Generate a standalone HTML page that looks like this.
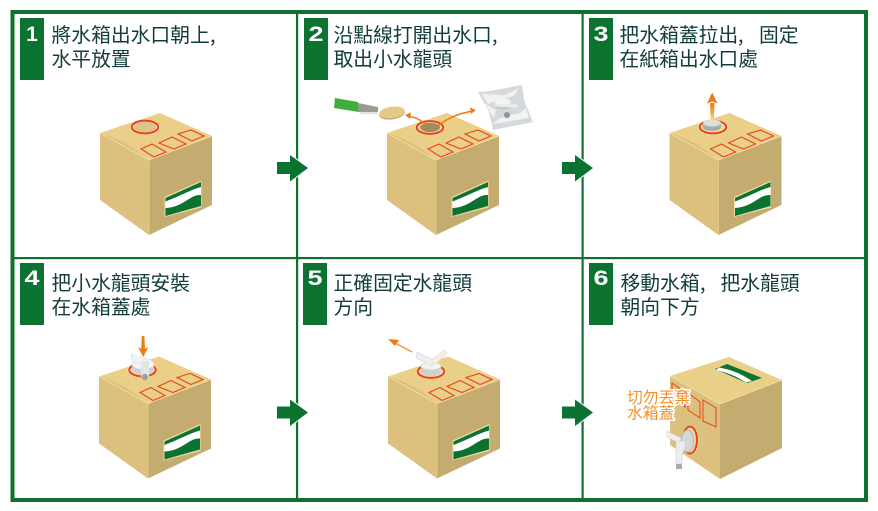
<!DOCTYPE html>
<html lang="zh-Hant">
<head>
<meta charset="utf-8">
<style>
html,body{margin:0;padding:0;background:#fff;width:878px;height:511px;overflow:hidden}
svg{display:block}
.t{font-family:"Liberation Sans","Noto Sans CJK TC",sans-serif;font-size:19.8px;fill:#123c3c}
.c{font-family:"Noto Sans CJK JP","Liberation Sans",sans-serif;font-size:19.8px;fill:#123c3c}
.n{font-family:"Liberation Sans",sans-serif;font-size:21px;font-weight:bold;fill:#fff;text-anchor:middle}
.o{font-family:"Liberation Sans","Noto Sans CJK TC",sans-serif;font-size:15.800px;fill:#f2922e;stroke:#fff;stroke-width:3px;paint-order:stroke;stroke-linejoin:round}
</style>
</head>
<body>
<svg width="878" height="511" viewBox="0 0 878 511" xmlns="http://www.w3.org/2000/svg">
<defs>
<g id="box">
  <polygon points="100,133 160,113 212,136 149,160" fill="#e9cf88"/>
  <path d="M100 133 C120 139 135 148 149 160 C135 151 118 143 100 137Z" fill="#dcc07e"/>
  <polygon points="100,133 149,160 149,235 100,200" fill="#dcc07e"/>
  <polygon points="149,160 212,136 212,205 149,235" fill="#c4ab70"/>
  <polyline points="100,133 149,160 212,136" fill="none" stroke="#f2dfa8" stroke-width=".8"/>
  <line x1="149" y1="160" x2="149" y2="235" stroke="#e9cf88" stroke-width=".8"/>
  <polygon points="164.500,197 201.500,180.500 201.500,207.500 164.500,217" fill="#f0dba0"/>
  <polygon points="165.500,198 201,182 201,206 165.500,216" fill="#fff"/>
  <path d="M165.500 198 L201 182 L201 187 C190 190 180 196 165.500 201.500Z" fill="#0b7230"/>
  <path d="M165.500 216 L201 206 L201 195 C190 194 184 207 165.500 208Z" fill="#0b7230"/>
  <g fill="none" stroke="#e8431a" stroke-width="1.100">
    <polygon points="141,149 152,144 166,152 154,157"/>
    <polygon points="159,143 172,137 186,144 174,149"/>
    <polygon points="178,134 191,130 204,136 192,141"/>
  </g>
</g>
<linearGradient id="ao" x1="0" y1="1" x2="0" y2="0"><stop offset="0" stop-color="#fbd9a8"/><stop offset=".5" stop-color="#f7a040"/><stop offset="1" stop-color="#ee7a10"/></linearGradient>
<polygon id="arr" points="277,162 290,162 290,155 308,168 290,181.500 290,174 277,174" fill="#0b7230" stroke="#fff" stroke-width="2" paint-order="stroke"/>
<g id="ring">
  <ellipse cx="0" cy="0" rx="15" ry="7.800" fill="#f5e7ba"/>
  <ellipse cx="0" cy="0" rx="13.300" ry="6.400" fill="#f0dda2" stroke="#e8431a" stroke-width="2"/>
</g>
</defs>

<!-- frame -->
<rect x="12.500" y="12" width="853.500" height="488" fill="#fff" stroke="#0f7032" stroke-width="4"/>
<rect x="296" y="12" width="2.200" height="488" fill="#0f7032"/>
<rect x="581.500" y="12" width="2.200" height="488" fill="#0f7032"/>
<rect x="12" y="257" width="854" height="2.200" fill="#0f7032"/>

<!-- number tabs -->
<g fill="#0b7230">
<rect x="20" y="18" width="24" height="62"/>
<rect x="304" y="18" width="24" height="62"/>
<rect x="589" y="18" width="24" height="62"/>
<rect x="20" y="263" width="24" height="62"/>
<rect x="303" y="263" width="24" height="62"/>
<rect x="589" y="263" width="24" height="62"/>
</g>
<text class="n" x="32" y="41">1</text>
<text class="n" x="316" y="41" textLength="15" lengthAdjust="spacingAndGlyphs">2</text>
<text class="n" x="601" y="41" textLength="15" lengthAdjust="spacingAndGlyphs">3</text>
<text class="n" x="32" y="285" textLength="15" lengthAdjust="spacingAndGlyphs">4</text>
<text class="n" x="315" y="285" textLength="15" lengthAdjust="spacingAndGlyphs">5</text>
<text class="n" x="601" y="285" textLength="15" lengthAdjust="spacingAndGlyphs">6</text>

<!-- titles -->
<text class="t" x="51.500" y="42">將水箱出水口朝上</text><text class="c" x="210" y="42">,</text>
<text class="t" x="51.500" y="66">水平放置</text>
<text class="t" x="333.500" y="42">沿點線打開出水口</text><text class="c" x="492" y="42">,</text>
<text class="t" x="333.500" y="66">取出小水龍頭</text>
<text class="t" x="619.500" y="42">把水箱蓋拉出</text><text class="c" x="738" y="42">,</text><text class="t" x="759" y="42">固定</text>
<text class="t" x="619.500" y="66">在紙箱出水口處</text>
<text class="t" x="51.500" y="290">把小水龍頭安裝</text>
<text class="t" x="51.500" y="314">在水箱蓋處</text>
<text class="t" x="333.500" y="290">正確固定水龍頭</text>
<text class="t" x="333.500" y="314">方向</text>
<text class="t" x="620.500" y="290">移動水箱</text><text class="c" x="700" y="290">,</text><text class="t" x="720.500" y="290">把水龍頭</text>
<text class="t" x="620.500" y="314">朝向下方</text>

<!-- arrows between panels -->
<use href="#arr"/>
<use href="#arr" x="285"/>
<use href="#arr" y="244.500"/>
<use href="#arr" x="285" y="244.500"/>

<!-- Panel 1 -->
<use href="#box"/>
<use href="#ring" transform="translate(145 127)"/>
<ellipse cx="145" cy="127" rx="10.500" ry="4.400" fill="#dcc58c" stroke="#c8b27a" stroke-width=".6"/>

<!-- Panel 2 -->
<use href="#box" x="287"/>
<use href="#ring" transform="translate(430 127.500)"/>
<ellipse cx="430" cy="127.500" rx="10" ry="4.600" fill="#a38b5c"/>
<polygon points="335,98 358,102 359,112 334,108" fill="#3fae3c"/>
<polygon points="358,103 378,107 378,113 359,112" fill="#9b9b95"/>
<polygon points="378,112 359,112 360,114 378,114.500" fill="#e3e3e3"/>
<ellipse cx="392" cy="113.500" rx="13" ry="5.800" transform="rotate(-8 392 113.500)" fill="#b89e66"/>
<ellipse cx="392" cy="112.500" rx="13" ry="5.800" transform="rotate(-8 392 112.500)" fill="#e4c987"/>
<g fill="none" stroke="#ee7a10" stroke-width="1.500">
<path d="M426 125 Q418 117 407 116"/>
<path d="M438 126 Q452 114 474 111"/>
</g>
<polygon points="405,115 411,112.500 410,119" fill="#ee7a10"/>
<polygon points="476,110 470,107.500 471,114" fill="#ee7a10"/>
<polygon points="478,92 490,91 522,85 524,100 533,122 493,130 489,112" fill="#d5d9db"/>
<polygon points="482,94 505,95 519,88 514,96 498,100 488,104" fill="#eff1f2"/>
<polygon points="493,124 529,118 526,108 520,113 500,118" fill="#f1f3f3"/>
<polygon points="484,103 496,110 494,118 490,112" fill="#eff1f2"/>
<path d="M495 102 v4 a8 3.500 0 0 0 16 0 v-4Z" fill="#c6cacb"/>
<ellipse cx="503" cy="102" rx="8" ry="3.500" fill="#f3f4f4"/>
<rect x="495" y="104" width="23" height="3" fill="#eceeee" transform="rotate(3 506 105)"/>
<circle cx="507" cy="115" r="3" fill="#8f9496"/>

<!-- Panel 3 -->
<use href="#box" x="569.500"/>
<use href="#ring" transform="translate(713 127)"/>
<path d="M703 123 v4 a9 4 0 0 0 18 0 v-4Z" fill="#a9abab"/>
<ellipse cx="712" cy="123" rx="9" ry="3.500" fill="#dcdddd"/>
<polygon points="710,103 714.500,103 713.800,121 710.700,121" fill="url(#ao)"/>
<polygon points="712.200,92.500 717.500,103.500 712.200,101.500 706.900,103.500" fill="#ee7a10"/>

<!-- Panel 4 -->
<use href="#box" x="-1" y="243.500"/>
<use href="#ring" transform="translate(142.500 370)"/>
<path d="M132 364 v6 a11 5 0 0 0 22 0 v-6Z" fill="#cfd1d1"/>
<ellipse cx="143" cy="364" rx="11" ry="5.500" fill="#f4f5f5" stroke="#d0d2d2" stroke-width=".6"/>
<polygon points="131,354 146,359 150,363 146,366 132,361" fill="#f2f3f3" stroke="#d4d6d6" stroke-width=".5"/>
<rect x="141" y="361" width="8" height="16" fill="#e4e6e6"/>
<circle cx="144.800" cy="377" r="3.200" fill="#9ea1a1"/>
<polygon points="141.800,336 144.400,336 145,350 141.200,350" fill="#ee7a10"/>
<polygon points="143.200,357 138,347 143.200,350 148.400,347" fill="#ee7a10"/>

<!-- Panel 5 -->
<use href="#box" x="288" y="243.500"/>
<use href="#ring" transform="translate(431 371.500)"/>
<path d="M421 366 v6 a10 4 0 0 0 20 0 v-6Z" fill="#cfd1d1"/>
<ellipse cx="431" cy="366" rx="10" ry="4" fill="#f2f3f3" stroke="#d0d2d2" stroke-width=".6"/>
<polygon points="417,352 434,360 432,366 416,358" fill="#eef0f0" stroke="#cfd1d1" stroke-width=".5"/>
<polygon points="431,360 445,350 447,353 435,365" fill="#f2f0e2" stroke="#d4d0b0" stroke-width=".5"/>
<line x1="412" y1="352" x2="395" y2="343" stroke="#f2953a" stroke-width="1.500"/>
<polygon points="388,339 399,340 395,346" fill="#ee7a10"/>

<!-- Panel 6 -->
<polygon points="670,376 729,357 782,380 720,404" fill="#e9cf88"/>
<polygon points="670,376 720,404 720,479 670,445" fill="#dcc07e"/>
<polygon points="720,404 782,380 782,448 720,479" fill="#c4ab70"/>
<polyline points="670,376 720,404 782,380" fill="none" stroke="#f2dfa8" stroke-width=".8"/>
<polygon points="715,369 727,364 762,378 747,383" fill="#0b7230"/>
<path d="M719 367.500 C732 370 740 373 752 381 L746 382.500 C736 376 728 373 716 370Z" fill="#fff"/>
<g fill="none" stroke="#e8431a" stroke-width="1">
<polygon points="672,383 685,392 685,407 672,398"/>
<polygon points="688,393 700,402 700,418 688,410"/>
<polygon points="703,400 716,408 716,427 703,421"/>
</g>
<ellipse cx="690" cy="440" rx="8.500" ry="15" fill="#f0dda2"/>
<ellipse cx="690" cy="440" rx="7" ry="13.500" fill="#eadba8" stroke="#e8431a" stroke-width="2"/>
<ellipse cx="687.500" cy="441" rx="6" ry="11" fill="#d6d8d8" stroke="#a9abab" stroke-width=".8"/>
<polygon points="667,431 681,438 681,444 667,437" fill="#eef0f0" stroke="#c9cbcb" stroke-width=".5"/>
<path d="M676 441 h9 v7 l-3 6 v10 h-6 v-15Z" fill="#eceeee" stroke="#c4c6c6" stroke-width=".5"/>
<rect x="676" y="464" width="6" height="5" fill="#a9abab"/>
<text class="o" x="627" y="403">切勿丟棄</text>
<text class="o" x="627" y="418.500">水箱蓋</text>
</svg>
</body>
</html>
